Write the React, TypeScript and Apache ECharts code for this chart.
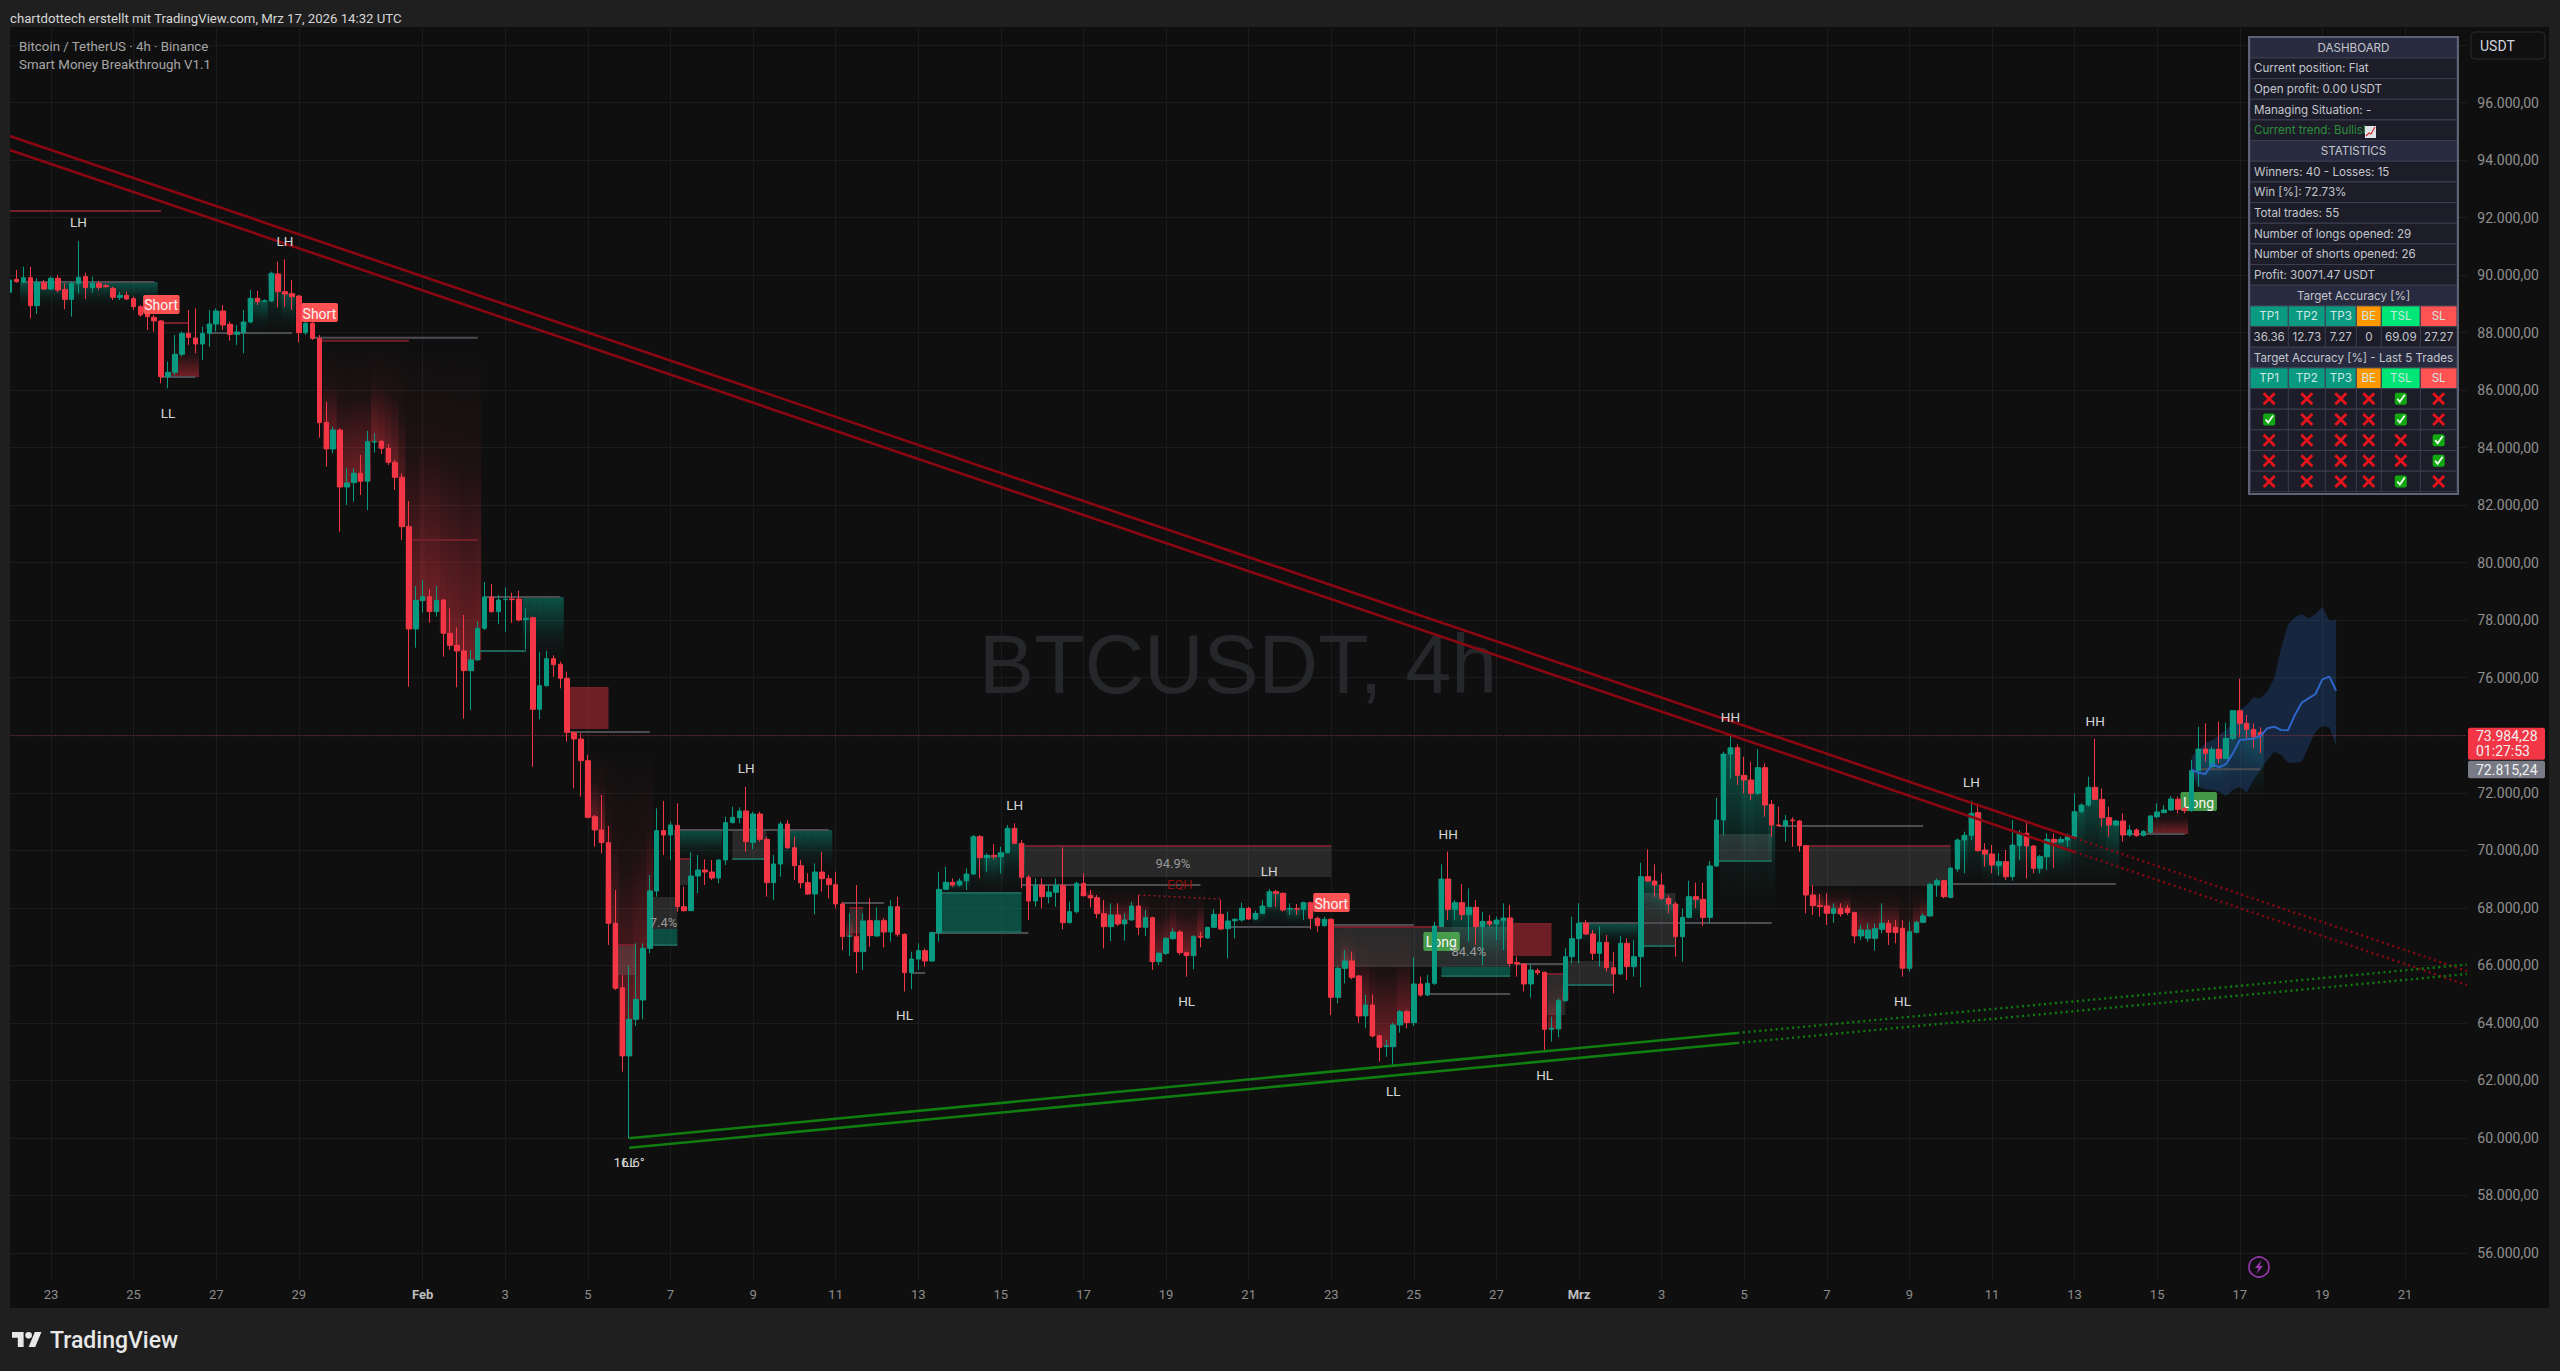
import React, { useEffect, useRef } from "react";
import * as echarts from "echarts";

echarts.graphic.registerShape(
  "tvlogo",
  echarts.graphic.extendPath("M14 22H7V11H0V4h14v18zM28 22h-8l7.5-18h8L28 22zM24 8a4 4 0 1 1-8 0a4 4 0 1 1 8 0z", {})
);

const FONT = "Roboto, sans-serif";
const BG = "#0f0f0f";
const CHROME = "#1f1f1f";
const UP = "#089981";
const DOWN = "#f23645";

// open, close, low, high of every 4h bar from Jan 22 00:00
const candleRows: number[][] = [
  [89405,89834,89370,89892],[89857,89776,89741,90182],[89764,89915,89718,90298],[89915,88941,88501,90298],
  [88941,89753,88651,89892],[89741,89521,89486,89834],[89521,89892,89486,89950],[89892,89486,89405,90008],
  [89509,89161,88814,89718],[89161,89718,88559,89776],[89718,89927,89370,91190],[89950,89567,89173,90089],
  [89567,89718,89393,89950],[89718,89579,89486,89799],[89637,89602,89567,89695],[89544,89231,89138,89602],
  [89231,89301,89138,89428],[89301,89173,89138,89428],[89185,88906,88791,89254],[88906,88617,88559,88964],
  [88675,88559,88095,88791],[88535,88408,88037,88617],[88408,86472,86240,88443],[86472,86623,86066,86994],
  [86623,87249,86530,87921],[87249,87979,87167,88037],[87979,87840,87573,88791],[87817,87608,87283,88848],
  [87608,87979,87052,88211],[87979,88304,87515,88791],[88304,88756,88037,88848],[88756,88269,88095,88964],
  [88292,87944,87724,88385],[87944,88025,87573,88269],[88002,88373,87283,88791],[88373,89196,88327,89486],
  [89196,89080,88964,89463],[89092,89115,89069,89161],[89103,90066,89080,90124],[90043,89428,88883,90471],
  [89428,89347,88906,90553],[89359,89254,88791,89834],[89277,88002,87666,89312],[88002,88327,87921,88443],
  [88327,87805,87747,88385],[87805,84872,84350,87921],[84883,83956,83341,85602],[83956,84617,83805,84733],
  [84617,82634,81081,84675],[82634,82773,82008,83284],[82785,83110,82124,83284],[83110,82831,82356,83747],
  [82831,84211,81834,84582],[84199,84211,83828,84501],[84223,83979,83782,84269],[83979,83492,83399,84130],
  [83492,82971,82530,83573],[82971,81255,80791,83110],[81255,77696,75690,82147],[77696,78693,77046,79191],
  [78681,78820,78264,79400],[78820,78299,77916,79075],[78299,78693,78125,79191],[78704,77545,76733,78739],
  [77545,77128,76965,78414],[77128,76931,75667,77754],[76931,76247,74577,78183],[76247,76618,74879,76965],
  [76618,77719,76594,77951],[77719,78809,77661,79330],[78809,78299,78264,79261],[78299,78704,77858,78878],
  [78716,78727,77603,79145],[78739,78716,77916,78959],[78739,78009,77951,79029],[78020,78067,76989,78414],
  [78090,74902,72908,78125],[74902,75725,74554,76907],[75725,76664,75690,76931],[76664,76455,76038,76780],
  [76467,75980,75632,76560],[75980,74102,73777,76212],[74090,73870,72154,74125],[73870,73116,71864,74067],
  [73116,71145,71110,73313],[71168,70705,70125,71226],[70705,70264,69893,71922],[70264,67459,66705,70844],
  [67459,65198,65140,68618],[65221,62845,62300,65662],[62845,64120,59981,65975],[64120,64815,63888,66763],
  [64792,66589,64120,66763],[66589,68583,66415,69140],[68583,70682,68386,71458],[70682,70531,69835,71713],
  [70531,70879,69661,70995],[70867,68038,67864,71632],[68038,67899,67864,68734],[67899,69105,67888,69928],
  [69105,69314,68502,69835],[69314,69244,68792,69685],[69244,69035,68966,69661],[69035,69661,68850,69685],
  [69661,70960,69487,71168],[70960,71145,70937,71516],[71134,71366,70937,71493],[71366,70299,69951,72212],
  [70276,71261,70044,71342],[71261,70380,70299,71342],[70380,68873,68386,70473],[68873,69522,68270,69835],
  [69522,70913,69082,70995],[70913,70090,70044,71053],[70090,69464,68966,70473],[69464,68873,68676,69661],
  [68873,68479,68444,69198],[68479,69244,67772,69545],[69244,69012,68560,69951],[69012,68803,68328,69140],
  [68803,68131,67980,69256],[68131,66995,66531,68212],[67007,67018,66323,67806],[66995,66473,65720,68792],
  [66473,67540,65836,67806],[67551,67030,66647,68328],[67018,67551,66995,68015],[67551,67157,66624,67633],
  [67157,68038,66821,68270],[68038,67076,66995,68386],[67076,65743,65082,67111],[65743,66218,65163,66473],
  [66218,66508,65836,66763],[66508,66149,65952,66589],[66149,67134,66125,67169],[67134,68641,66821,69256],
  [68641,68885,68618,69429],[68885,68792,68734,69024],[68792,68931,68734,69024],[68943,69174,68618,69372],
  [69174,70473,69140,70531],[70473,69742,69024,70531],[69742,69824,69256,69893],[69824,69777,69685,70218],
  [69777,69916,69198,70125],[69916,70763,69893,70879],[70763,70241,70218,70937],[70241,69059,68676,70357],
  [69059,68235,67575,69140],[68235,68780,68038,69024],[68780,68386,67980,69024],[68386,68548,68154,68792],
  [68537,68780,68038,69024],[68780,67482,67250,70102],[67482,67864,67459,68212],[67864,68850,67806,68908],
  [68850,68421,68386,69198],[68421,68340,68015,68618],[68351,67795,67633,68444],[67795,67343,66589,68270],
  [67343,67749,66844,68154],[67749,67436,67366,68154],[67436,67575,66856,67806],[67575,68062,67552,68212],
  [68062,67320,67053,68444],[67320,67656,67018,67922],[67656,66125,65836,67691],[66125,66415,66010,66473],
  [66415,66937,66357,66972],[66925,67157,66879,67285],[67157,66439,66357,67227],[66439,66334,65604,66473],
  [66334,66995,65859,67053],[66995,66972,66624,67169],[66949,67320,66925,67343],[67320,67772,67285,67946],
  [67772,67262,67227,68270],[67273,67540,66241,67864],[67551,67598,66937,67633],[67575,67980,67517,68178],
  [67980,67609,67575,68038],[67609,67806,67575,67899],[67806,68062,67790,68270],[68038,68560,68015,68653],
  [68560,68502,68038,68618],[68502,67922,67864,68537],[67957,67980,67749,68154],[67980,67957,67749,68131],
  [67946,68178,67575,68212],[68178,67633,67250,68212],[67633,67378,67169,67691],[67378,67598,67343,67691],
  [67598,64885,64271,67633],[64885,65894,64676,65952],[65894,66149,65372,66531],[66149,65581,65511,66473],
  [65627,64236,64004,65662],[64236,64618,63807,64966],[64618,63540,63494,64989],[63552,63146,62648,63575],
  [63169,63204,62821,63401],[63169,63923,62497,64004],[63923,64387,63656,64445],[64387,64004,63807,64445],
  [64004,65349,63888,66276],[65349,64966,64908,65604],[64966,65372,64931,65662],[65372,67366,65314,67517],
  [67343,69000,67343,69511],[69000,67946,67575,69951],[67946,68178,67575,68270],[68178,67760,67575,68827],
  [67760,68015,66821,68676],[68015,67343,66705,68270],[67343,67528,66010,67864],[67528,67436,67343,67749],
  [67436,67575,66879,67691],[67563,67644,66531,68154],[67644,66068,65952,68096],[66091,66044,65604,66299],
  [66044,65349,65082,66068],[65349,65836,64874,66010],[65813,65743,65662,65894],[65755,63772,62995,65778],
  [63772,63807,63343,64213],[63784,64769,63494,64850],[64769,66299,64734,66589],[66299,66925,66068,67691],
  [66925,67459,66068,68154],[67459,67088,67053,67575],[67088,66415,66183,67227],[66415,66798,65952,67343],
  [66798,65917,65778,67053],[65917,65697,65024,66473],[65697,66763,65662,67018],[66763,65952,65488,66937],
  [65952,66299,65604,66879],[66299,69082,65233,69569],[69082,68931,68908,70032],[68931,68792,68386,69511],
  [68792,68328,68270,69198],[68328,68131,67806,68444],[68131,66995,66299,68212],[66995,67667,66125,67980],
  [67667,68386,67633,68943],[68386,68293,67980,68873],[68293,67667,67366,68873],[67667,69453,67459,69627],
  [69453,71053,69429,71829],[71053,73348,70531,73429],[73348,73568,72502,74009],[73568,72606,72270,73684],
  [72606,72444,71980,73255],[72444,71980,71748,73081],[71980,72873,71922,73510],[72873,71574,71168,73023],
  [71597,70879,70473,71748],[70879,70855,70821,71516],[70844,71029,70299,71226],[71053,71029,70125,71145],
  [71018,70160,69951,71053],[70160,68444,67807,70183],[68444,68073,67749,68792],[68073,68039,67691,68479],
  [68061,67807,67401,68502],[67807,67981,67482,68155],[67981,67784,67691,68155],[67981,67830,67749,68097],
  [67830,67018,66763,67865],[67018,67227,66880,67401],[66937,67227,66821,67459],[66937,67273,66508,67459],
  [67250,67459,67111,68155],[67459,67146,66705,67575],[67320,67134,66763,67575],[67285,65894,65604,67575],
  [65894,67169,65778,67517],[67146,67494,67111,67540],[67494,67714,67459,67807],[67714,68815,67691,68873],
  [68792,68943,68386,69024],[68943,68386,68328,68966],[68363,69372,68328,69430],[69349,70357,69256,70415],
  [70357,70519,69198,70647],[70519,71285,70357,71725],[71308,69986,69951,71632],[70009,69870,69430,70241],
  [69870,69488,69198,70183],[69465,69604,69117,69893],[69604,69082,68966,70009],[69082,70183,68943,71053],
  [70160,70589,69662,70705],[70589,70149,69024,70995],[70149,69372,69198,70183],[69372,69777,69198,69835],
  [69777,70380,69314,70589],[70380,70288,69372,70589],[70288,70380,70241,70473],[70357,70473,70125,70589],
  [70473,71343,70415,71980],[71343,71574,71285,71632],[71574,72189,71516,72560],[72189,71772,71748,73881],
  [71772,71134,70821,72154],[71134,70879,70473,71516],[70879,71018,70844,71053],[71018,70531,70299,71285],
  [70531,70705,70473,70879],[70705,70508,70473,70763],[70519,70659,70473,70705],[70624,71192,70589,71227],
  [71169,71331,71111,71632],[71308,71400,71285,71574],[71400,71783,71377,71888],[71772,71424,71285,71864],
  [71458,71377,71285,71516],[71377,72769,71343,73140],[72769,73522,72212,74299],[73522,73371,73081,74415],
  [72908,73510,72850,73603],[73510,73197,73024,74473],[73197,73893,73163,74438],[73893,74855,73835,74878],
  [74855,74415,73928,75968],[74415,74206,73893,74704],[74206,73951,73545,74415],[74100,73984,73371,74276],
];

const tickIndex = [6,18,30,42,60,72,84,96,108,120,132,144,156,168,180,192,204,216,228,240,252,264,276,288,300,312,324,336,348];
const tickText = ["23","25","27","29","Feb","3","5","7","9","11","13","15","17","19","21","23","25","27","Mrz","3","5","7","9","11","13","15","17","19","21"];
const gridPrices = [56000,58000,60000,62000,64000,66000,68000,70000,72000,74000,76000,78000,80000,82000,84000,86000,88000,90000,92000,94000,96000,98000];
const labelPrices = [56000,58000,60000,62000,64000,66000,68000,70000,72000,76000,78000,80000,82000,84000,86000,88000,90000,92000,94000,96000];

// trendlines: bar index, price
const redUpper = [[0,94842],[300,70427]];
const redLower = [[0,94355],[300,69940]];
const redUpperDotted = [[300,70427],[357,65800]];
const redLowerDotted = [[300,69940],[357,65314]];
const greenUpper = [[90,59982],[251,63644]];
const greenLower = [[90,59655],[251,63296]];
const greenUpperDotted = [[251,63644],[357,66027]];
const greenLowerDotted = [[251,63296],[357,65696]];
const eqhDotted = [[164,68444],[176,68305]];

const lastPrice = 73984.28;
const prevPrice = 72815.24;

// forecast band and path
const forecastIndex = [317,318,319,320,321,322,323,324,325,326,327,328,329,330,331,332,333,334,335,336,337,338];
const forecastMid = [72792,72699,72653,73000,72885,73000,73371,73835,73858,73881,73974,74241,74299,74183,74171,74705,75134,75284,75435,75945,76038,75551];
const forecastTop = [73255,73487,73719,73835,74009,74183,74473,74879,75052,75319,75284,75516,75980,77023,77835,78101,78217,78067,78217,78472,77985,78009];
const forecastLow = [72734,72212,72119,72096,72038,71887,72096,72212,72003,72444,72792,73140,73430,73313,73047,73047,73082,73603,74125,74322,74276,73627];

// start, end, top, bottom (null: follow the candle body)
const redFades: (number | null)[][] = [
  [24,27,87747,86460],[46,68,87573,null],[84,93,73487,null],[122,127,67992,null],[156,173,68687,null],
  [193,203,67331,null],[224,226,65697,null],[262,282,68756,null],[311,316,71400,70566],
];
const greenFades: (number | null)[][] = [
  [2,21,89764,88895],[29,41,null,87990],[75,80,78809,76617],[97,103,70705,69661],[112,119,70705,69314],
  [136,147,null,68513],[181,191,null,67332],[208,218,null,65627],[229,236,67471,66705],[238,242,null,67401],
  [244,247,null,67401],[249,256,null,68026],[283,306,null,68827],[318,327,null,71852],
];

// start, end, top, bottom
const grayZones = [
  [88,91,66705,65662],[93,97,68374,67262],[97,99,69697,68792],[105,110,70670,69697],[122,124,67992,67123],
  [147,192,70149,69071],[192,218,67331,65940],[223,226,65697,64271],[226,233,66148,65314],[237,242,68513,66670],
  [248,256,70566,69627],[261,282,70149,68756],
];
const tealZones = [[93,97,67262,66705],[135,147,68513,67157],[208,218,65940,65627]];
const redZones = [[81,87,75644,74218],[218,224,67433,66320]];

// start, end, price
const grayLevels = [
  [2,21,89764],[29,41,87990],[22,27,86460],[44,68,87827],[69,80,78809],[81,93,74113],[97,119,70705],[121,127,68166],
  [131,133,65731],[134,148,67122],[147,173,68792],[177,189,67332],[192,204,67401],[206,218,65000],[219,226,66045],
  [228,256,67471],[257,278,70844],[282,306,68827],[307,316,70566],[318,327,72815],
];
const redLevels = [
  [0,22,92234],[22,26,88338],[45,58,87723],[58,68,80791],[88,91,66705],[97,99,69697],[122,124,67992],[147,192,70149],
  [192,208,67331],[223,226,65697],[261,282,70149],[81,87,75644],[218,224,67433],
];
const tealLevels = [
  [68,75,76930],[105,110,69697],[208,218,65627],[226,233,65314],[237,242,66670],[248,256,69627],[93,97,66705],
  [135,147,67157],[135,147,68513],
];

const structureLabels: [number, number, string][] = [
  [10,91851,"LH"],[40,91190,"LH"],[23,85208,"LL"],[107,72861,"LH"],[146,71574,"LH"],[130,64270,"HL"],[90,59157,"LL"],
  [90,59157,"16.6°"],[171,64757,"HL"],[183,69279,"LH"],[209,70566,"HH"],[201,61627,"LL"],[223,62183,"HL"],
  [250,74635,"HH"],[285,72374,"LH"],[275,64757,"HL"],[303,74495,"HH"],
];
const percentLabels: [number, number, string][] = [[95,67505,"7.4%"],[169,69557,"94.9%"],[212,66462,"84.4%"]];
const eqhLabel: [number, number, string] = [170,68792,"EQH"];
const shortSignals = [[22,88982],[45,88703],[192,68183]];
const longSignals = [[208,66827],[318,71696]];

const dashRows = [
  "DASHBOARD","Current position: Flat","Open profit: 0.00 USDT","Managing Situation: -","Current trend: Bullish",
  "STATISTICS","Winners: 40 - Losses: 15","Win [%]: 72.73%","Total trades: 55","Number of longs opened: 29",
  "Number of shorts opened: 26","Profit: 30071.47 USDT","Target Accuracy [%]",
];
const targetHeads = ["TP1","TP2","TP3","BE","TSL","SL"];
const targetColors = ["#0a9a82","#0a9a82","#0a9a82","#ff9800","#00e676","#ff5252"];
const targetValues = ["36.36","12.73","7.27","0","69.09","27.27"];
const lastFive = [[0,0,0,0,1,0],[1,0,0,0,1,0],[0,0,0,0,0,1],[0,0,0,0,0,1],[0,0,0,0,1,0]];

const priceText = (v: number) =>
  v.toLocaleString("de-DE", { minimumFractionDigits: 2, maximumFractionDigits: 2 });

const categories = Array.from({ length: 358 }, (_, i) => String(i));

const lineSeries = (data: number[][], color: string, width: number, dash: number[] | null, z = 6) => ({
  type: "line",
  data,
  z,
  silent: true,
  symbol: "none",
  lineStyle: { color, width, type: dash ?? "solid" },
});

// one item only, the render function walks the named lists itself
const layer = (z: number, build: (api: any) => any[]) => ({
  type: "custom",
  z,
  silent: true,
  data: [[0, 70000]],
  renderItem: (_: any, api: any) => ({ type: "group", children: build(api) }),
});

const RED_STOPS = [
  { offset: 0, color: "rgba(242,54,69,0)" },
  { offset: 0.4, color: "rgba(242,54,69,0.07)" },
  { offset: 1, color: "rgba(242,54,69,0.45)" },
];
const GREEN_STOPS = [
  { offset: 0, color: "rgba(8,153,129,0.48)" },
  { offset: 0.6, color: "rgba(8,153,129,0.1)" },
  { offset: 1, color: "rgba(8,153,129,0)" },
];

function columnFade(api: any, i: number, top: number, bottom: number, stops: any[]) {
  const a = api.coord([i, top]);
  const b = api.coord([i, bottom]);
  const w = api.size([1, 0])[0];
  return {
    type: "rect",
    shape: { x: a[0] - w / 2, y: a[1], width: w, height: b[1] - a[1] },
    style: { fill: new echarts.graphic.LinearGradient(0, 0, 0, 1, stops) },
  };
}

function fadeShapes(api: any) {
  const out: any[] = [];
  redFades.forEach(([s, e, top, bottom]) => {
    for (let i = s as number; i <= (e as number); i++) {
      const bar = candleRows[i];
      const low = bottom === null ? Math.min(bar[0], bar[1]) : bottom;
      if ((top as number) > low) out.push(columnFade(api, i, top as number, low, RED_STOPS));
    }
  });
  greenFades.forEach(([s, e, top, bottom]) => {
    for (let i = s as number; i <= (e as number); i++) {
      const bar = candleRows[i];
      const high = top === null ? Math.max(bar[0], bar[1]) : top;
      if (high > (bottom as number)) out.push(columnFade(api, i, high, bottom as number, GREEN_STOPS));
    }
  });
  return out;
}

function zoneRect(api: any, z: number[], fill: string) {
  const a = api.coord([z[0], z[2]]);
  const b = api.coord([z[1], z[3]]);
  return { type: "rect", shape: { x: a[0], y: a[1], width: b[0] - a[0], height: b[1] - a[1] }, style: { fill } };
}

function levelLine(api: any, l: number[], stroke: string) {
  const a = api.coord([l[0], l[2]]);
  const b = api.coord([l[1], l[2]]);
  return { type: "line", shape: { x1: a[0], y1: a[1], x2: b[0], y2: b[1] }, style: { stroke, lineWidth: 2 } };
}

function zoneShapes(api: any) {
  const out: any[] = [];
  const band = forecastIndex.map((x, i) => api.coord([x, forecastTop[i]]));
  const lower = forecastIndex.map((x, i) => api.coord([x, forecastLow[i]])).reverse();
  out.push({ type: "polygon", shape: { points: band.concat(lower) }, style: { fill: "rgba(42,92,175,0.3)" } });
  grayZones.forEach((z) => out.push(zoneRect(api, z, "rgba(255,255,255,0.11)")));
  tealZones.forEach((z) => out.push(zoneRect(api, z, "rgba(8,153,129,0.45)")));
  redZones.forEach((z) => out.push(zoneRect(api, z, "rgba(242,54,69,0.42)")));
  grayLevels.forEach((l) => out.push(levelLine(api, l, "#4b4d53")));
  redLevels.forEach((l) => out.push(levelLine(api, l, "#74202a")));
  tealLevels.forEach((l) => out.push(levelLine(api, l, "#1d6458")));
  return out;
}

function signal(api: any, s: number[], fill: string, text: string) {
  const c = api.coord([s[0], s[1]]);
  return [
    { type: "rect", shape: { x: c[0] - 18, y: c[1] - 9.5, width: 36.5, height: 19, r: 2 }, style: { fill } },
    { type: "text", style: { x: c[0], y: c[1] + 1, text, fill: "#f5f5f5", font: `14px ${FONT}`, textAlign: "center", textVerticalAlign: "middle" } },
  ];
}

function chartText(api: any, l: [number, number, string], fill: string, size: number) {
  const c = api.coord([l[0], l[1]]);
  return { type: "text", style: { x: c[0], y: c[1], text: l[2], fill, font: `${size}px ${FONT}`, textAlign: "center", textVerticalAlign: "middle" } };
}

function labelShapes(api: any) {
  const out: any[] = [];
  shortSignals.forEach((s) => out.push(...signal(api, s, "#ff5252", "Short")));
  structureLabels.forEach((l) => out.push(chartText(api, l, "#d6d6d6", 13.5)));
  percentLabels.forEach((l) => out.push(chartText(api, l, "#9a9a9a", 13)));
  out.push(chartText(api, eqhLabel, "#8f1010", 13));
  return out;
}

function priceTags(api: any) {
  const y = api.coord([0, lastPrice])[1];
  const y2 = api.coord([0, prevPrice])[1];
  const tag = (ty: number, h: number, fill: string) => ({
    type: "rect",
    shape: { x: 2468, y: ty, width: 77, height: h, r: 2 },
    style: { fill },
  });
  const txt = (ty: number, text: string) => ({
    type: "text",
    style: { x: 2476, y: ty, text, fill: "#f0f0f0", font: `14px ${FONT}`, textVerticalAlign: "middle" },
  });
  return [
    tag(y - 8, 32, DOWN),
    txt(y + 0.5, priceText(lastPrice)),
    txt(y + 15.5, "01:27:53"),
    tag(y2 - 8.5, 17.5, "#787b86"),
    txt(y2 + 0.5, priceText(prevPrice)),
  ];
}

function cellText(x: number, y: number, text: string, fill: string, align = "center") {
  return { type: "text", z: 62, style: { x, y, text, fill, font: "11.6px Inter, sans-serif", textAlign: align, textVerticalAlign: "middle" } };
}

function dashboard() {
  const left = 2250;
  const right = 2457;
  const top = 37.3;
  const rowH = 20.66;
  const cols = [2250, 2288.3, 2325.3, 2356.3, 2381.3, 2420.3, 2457];
  const out: any[] = [];
  const mid = (r: number) => top + rowH * r + rowH / 2;
  const rowRect = (r: number, fill: string) => ({
    type: "rect", z: 60,
    shape: { x: left, y: top + rowH * r, width: right - left, height: rowH },
    style: { fill, stroke: "#3d3f50", lineWidth: 1 },
  });
  const heads = [0, 5, 12, 15];
  for (let r = 0; r < 22; r++) out.push(rowRect(r, heads.includes(r) ? "#282b3f" : "#1c1d29"));
  dashRows.forEach((t, r) => {
    if (heads.includes(r)) out.push(cellText((left + right) / 2, mid(r), t, "#c4c6cc"));
    else out.push(cellText(left + 4, mid(r), t, r === 4 ? "#2e8b3a" : "#c4c6cc", "left"));
  });
  out.push(cellText((left + right) / 2, mid(15), "Target Accuracy [%] - Last 5 Trades", "#c4c6cc"));
  // little chart emoji behind the trend row
  out.push({ type: "rect", z: 62, shape: { x: 2365, y: 126, width: 11, height: 12 }, style: { fill: "#dfe3ea" } });
  out.push({ type: "polyline", z: 63, shape: { points: [[2366, 136], [2369, 133], [2371, 134], [2375, 127]] }, style: { stroke: "#d8342c", lineWidth: 1.3, fill: "none" } });
  [13, 16].forEach((r) => {
    targetHeads.forEach((h, c) => {
      out.push({
        type: "rect", z: 61,
        shape: { x: cols[c], y: top + rowH * r, width: cols[c + 1] - cols[c], height: rowH },
        style: { fill: targetColors[c], stroke: "#3d3f50", lineWidth: 1 },
      });
      out.push(cellText((cols[c] + cols[c + 1]) / 2, mid(r), h, "#cfe8e2"));
    });
  });
  targetValues.forEach((v, c) => {
    out.push({ type: "line", z: 61, shape: { x1: cols[c], y1: top + rowH * 14, x2: cols[c], y2: top + rowH * 15 }, style: { stroke: "#3d3f50", lineWidth: 1 } });
    out.push(cellText((cols[c] + cols[c + 1]) / 2, mid(14), v, "#c4c6cc"));
  });
  lastFive.forEach((row, k) => {
    const r = 17 + k;
    row.forEach((hit, c) => {
      const cx = (cols[c] + cols[c + 1]) / 2;
      const cy = mid(r);
      out.push({ type: "line", z: 61, shape: { x1: cols[c], y1: top + rowH * r, x2: cols[c], y2: top + rowH * (r + 1) }, style: { stroke: "#3d3f50", lineWidth: 1 } });
      if (hit) {
        out.push({ type: "rect", z: 62, shape: { x: cx - 6, y: cy - 6, width: 12, height: 12, r: 2 }, style: { fill: "#12a812" } });
        out.push({ type: "polyline", z: 63, shape: { points: [[cx - 3.5, cy], [cx - 1, cy + 3], [cx + 4, cy - 4]] }, style: { stroke: "#f4fff4", lineWidth: 1.8, fill: "none" } });
      } else {
        out.push({ type: "line", z: 62, shape: { x1: cx - 5.5, y1: cy - 5.5, x2: cx + 5.5, y2: cy + 5.5 }, style: { stroke: "#e8141c", lineWidth: 2.8 } });
        out.push({ type: "line", z: 62, shape: { x1: cx + 5.5, y1: cy - 5.5, x2: cx - 5.5, y2: cy + 5.5 }, style: { stroke: "#e8141c", lineWidth: 2.8 } });
      }
    });
  });
  out.push({ type: "rect", z: 64, shape: { x: 2249, y: 37, width: 209, height: 457 }, style: { fill: "none", stroke: "#5e6178", lineWidth: 2 } });
  return out;
}

function chrome() {
  const strip = (x: number, y: number, width: number, height: number, fill = CHROME) => ({
    type: "rect", z: 50, shape: { x, y, width, height }, style: { fill },
  });
  return [
    { type: "text", z: 1, style: { x: 1238, y: 664, text: "BTCUSDT, 4h", fill: "#26272b", font: "82.5px 'Liberation Sans'", textAlign: "center", textVerticalAlign: "middle" } },
    strip(2467, 28, 4, 1252, BG),
    strip(0, 0, 2560, 27),
    strip(0, 0, 10, 1371),
    strip(0, 1308, 2560, 63),
    strip(2549, 0, 11, 1371),
    { type: "text", z: 52, style: { x: 10, y: 18, text: "chartdottech erstellt mit TradingView.com, Mrz 17, 2026 14:32 UTC", fill: "#d6d6d6", font: `13.2px ${FONT}`, textVerticalAlign: "middle" } },
    { type: "text", z: 52, style: { x: 19, y: 46, text: "Bitcoin / TetherUS · 4h · Binance", fill: "#a6a6a6", font: `13.3px ${FONT}`, textVerticalAlign: "middle" } },
    { type: "text", z: 52, style: { x: 19, y: 64, text: "Smart Money Breakthrough V1.1", fill: "#a6a6a6", font: `13.3px ${FONT}`, textVerticalAlign: "middle" } },
    { type: "rect", z: 52, shape: { x: 2471, y: 32, width: 74, height: 27, r: 4 }, style: { fill: "#101010", stroke: "#2a2a2a", lineWidth: 1 } },
    { type: "text", z: 53, style: { x: 2480, y: 46, text: "USDT", fill: "#d1d4dc", font: `14px ${FONT}`, textVerticalAlign: "middle" } },
    { type: "tvlogo", z: 52, x: 12, y: 1328.7, scaleX: 0.83, scaleY: 0.83, style: { fill: "#e8e8e8" } },
    { type: "text", z: 52, style: { x: 50, y: 1340, text: "TradingView", fill: "#e8e8e8", font: `500 23px ${FONT}`, textVerticalAlign: "middle" } },
    { type: "circle", z: 52, shape: { cx: 2259, cy: 1267, r: 10 }, style: { fill: "none", stroke: "#9c35b0", lineWidth: 1.6 } },
    { type: "polygon", z: 52, shape: { points: [[2261.5, 1260], [2255, 1268], [2258.5, 1268], [2256.5, 1274], [2263, 1266], [2259.5, 1266]] }, style: { fill: "#9c35b0" } },
  ];
}

export default function App() {
  const chartRef = useRef<HTMLDivElement>(null);

  useEffect(() => {
    if (!chartRef.current) return;
    const chart = echarts.init(chartRef.current, undefined, { renderer: "svg" });

    chart.setOption({
      animation: false,
      backgroundColor: BG,
      grid: { left: 6.26, top: 28, bottom: 91, width: 2464.1 },
      xAxis: {
        type: "category",
        data: categories,
        axisLine: { show: false },
        axisTick: { show: false },
        axisLabel: {
          interval: (i: number) => tickIndex.includes(i),
          margin: 8,
          color: "#8c8c8c",
          fontFamily: FONT,
          fontSize: 13,
          formatter: (_: string, i: number) => {
            const t = tickText[tickIndex.indexOf(i)] ?? "";
            return t === "Feb" || t === "Mrz" ? `{m|${t}}` : t;
          },
          rich: { m: { color: "#bdbdbd", fontWeight: "bold", fontFamily: FONT, fontSize: 13 } },
        },
        splitLine: {
          show: true,
          alignWithLabel: true,
          interval: (i: number) => tickIndex.includes(i),
          lineStyle: { color: "#1c1c1c", width: 1 },
        },
      },
      yAxis: {
        type: "value",
        position: "right",
        min: 55054,
        max: 98598,
        axisLine: { show: false },
        axisTick: { show: false, customValues: gridPrices },
        axisLabel: {
          customValues: labelPrices,
          margin: 7,
          color: "#8f8f8f",
          fontFamily: FONT,
          fontSize: 14,
          align: "left",
          formatter: (v: number) => priceText(v),
        },
        splitLine: { show: true, lineStyle: { color: "#1c1c1c", width: 1 } },
      },
      series: [
        layer(1, fadeShapes),
        layer(2, zoneShapes),
        layer(3, (api) => longSignals.flatMap((s) => signal(api, s, "rgba(76,175,80,0.85)", "Long"))),
        {
          type: "candlestick",
          data: candleRows,
          z: 4,
          silent: true,
          barWidth: 5,
          itemStyle: { color: UP, color0: DOWN, borderColor: UP, borderColor0: DOWN, borderWidth: 1 },
        },
        lineSeries(redUpper, "#8a0712", 2.6, null),
        lineSeries(redLower, "#8a0712", 2.6, null),
        lineSeries(redUpperDotted, "#8a0712", 2.4, [2, 3.5]),
        lineSeries(redLowerDotted, "#8a0712", 2.4, [2, 3.5]),
        lineSeries(greenUpper, "#0f7d0f", 2.6, null),
        lineSeries(greenLower, "#0f7d0f", 2.6, null),
        lineSeries(greenUpperDotted, "#0f7d0f", 2.4, [2, 3.5]),
        lineSeries(greenLowerDotted, "#0f7d0f", 2.4, [2, 3.5]),
        lineSeries(eqhDotted, "#8f1a24", 1.5, [2, 3]),
        lineSeries([[0, lastPrice], [357, lastPrice]], "#b42a36", 1, [1, 2]),
        lineSeries(forecastIndex.map((x, i) => [x, forecastMid[i]]), "#2d66c8", 2, null),
        layer(8, labelShapes),
        layer(55, priceTags),
      ],
      graphic: { elements: [...chrome(), ...dashboard()] },
    });

    return () => chart.dispose();
  }, []);

  return <div ref={chartRef} style={{ position: "fixed", left: 0, top: 0, width: 2560, height: 1371 }} />;
}
